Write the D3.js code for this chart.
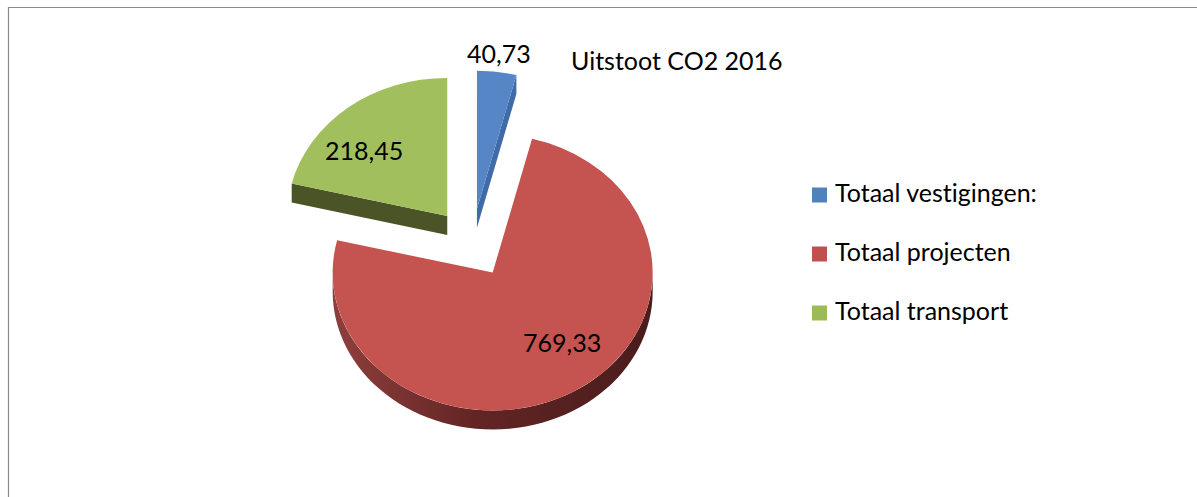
<!DOCTYPE html>
<html>
<head>
<meta charset="utf-8">
<script src="https://cdn.jsdelivr.net/npm/d3@7"></script>
<style>
html, body { margin: 0; padding: 0; background: #fff; }
svg { display: block; }
text { font-family: Lato, "Open Sans", sans-serif; fill: #000; font-variant-ligatures: none; font-feature-settings: "liga" 0, "clig" 0; }
</style>
</head>
<body>
<svg id="chart" width="1197" height="497"></svg>
<script>
// ---- data ----
const title = "Uitstoot CO2 2016";
const categories = ["Totaal vestigingen:", "Totaal projecten", "Totaal transport"];
const values = [40.73, 769.33, 218.45];
const valueLabels = ["40,73", "769,33", "218,45"];

// ---- styles ----
const topColors = ["#5686c6", "#c5534f", "#a2bf5e"];
const sideColors = ["#3f6ca8", "url(#redSide)", "#4a5427"];
const legendColors = ["#4f81bd", "#c0504d", "#9bbb59"];
const fontSize = 25;

const W = 1197, H = 497;
const svg = d3.select("#chart");

// border (chart area frame)
svg.append("line").attr("x1", 8).attr("x2", W).attr("y1", 7.5).attr("y2", 7.5)
  .attr("stroke", "#8a8a8a").attr("stroke-width", 1.2);
svg.append("line").attr("x1", 8.5).attr("x2", 8.5).attr("y1", 7).attr("y2", H)
  .attr("stroke", "#8a8a8a").attr("stroke-width", 1.2);

// 3D pie geometry
const cx = 472, cy = 243, rx = 160, ry = 138, depth = 19, explode = 40;
const k = ry / rx;

const defs = svg.append("defs");
const g1 = defs.append("linearGradient").attr("id", "redSide")
  .attr("gradientUnits", "userSpaceOnUse")
  .attr("x1", cx + 20 - rx).attr("x2", cx + 20 + rx).attr("y1", 0).attr("y2", 0);
g1.append("stop").attr("offset", 0).attr("stop-color", "#8f3f3d");
g1.append("stop").attr("offset", 0.45).attr("stop-color", "#622524");
g1.append("stop").attr("offset", 1).attr("stop-color", "#4a1c1c");

const pie = d3.pie().sort(null).value(d => d);
const arcs = pie(values);

const arcGen = d3.arc().innerRadius(0).outerRadius(rx);

function pt(ox, oy, a, r, dz) {
  return [ox + r * Math.sin(a), oy - r * k * Math.cos(a) + (dz || 0)];
}

function sidePath(ox, oy, a0, a1) {
  const s = Math.max(a0, Math.PI / 2), e = Math.min(a1, 3 * Math.PI / 2);
  if (e <= s) return null;
  const p = d3.path();
  const n = 60;
  for (let i = 0; i <= n; i++) {
    const a = s + (e - s) * i / n;
    const [x, y] = pt(ox, oy, a, rx);
    if (i === 0) p.moveTo(x, y); else p.lineTo(x, y);
  }
  for (let i = n; i >= 0; i--) {
    const a = s + (e - s) * i / n;
    const [x, y] = pt(ox, oy, a, rx, depth);
    p.lineTo(x, y);
  }
  p.closePath();
  return p.toString();
}

function cutPath(ox, oy, a) {
  const p = d3.path();
  const [x1, y1] = pt(ox, oy, a, rx);
  p.moveTo(ox, oy);
  p.lineTo(x1, y1);
  p.lineTo(x1, y1 + depth);
  p.lineTo(ox, oy + depth);
  p.closePath();
  return p.toString();
}

// draw order: back to front (transport, vestigingen, projecten)
const order = [2, 0, 1];
const pieG = svg.append("g");
order.forEach(i => {
  const d = arcs[i];
  const mid = (d.startAngle + d.endAngle) / 2;
  const ox = cx + explode * Math.sin(mid);
  const oy = cy - explode * k * Math.cos(mid);
  const g = pieG.append("g");
  const nS = d.startAngle - Math.PI / 2, nE = d.endAngle + Math.PI / 2;
  if (-Math.cos(nS) > 0.01) g.append("path").attr("d", cutPath(ox, oy, d.startAngle)).attr("fill", sideColors[i]);
  if (-Math.cos(nE) > 0.01) g.append("path").attr("d", cutPath(ox, oy, d.endAngle)).attr("fill", sideColors[i]);
  const sp = sidePath(ox, oy, d.startAngle, d.endAngle);
  if (sp) g.append("path").attr("d", sp).attr("fill", sideColors[i]);
  g.append("path")
    .attr("d", arcGen(d))
    .attr("transform", `translate(${ox},${oy}) scale(1,${k})`)
    .attr("fill", topColors[i]);
});

// value labels
arcs.forEach((d, i) => {
  const mid = (d.startAngle + d.endAngle) / 2;
  const ox = cx + explode * Math.sin(mid);
  const oy = cy - explode * k * Math.cos(mid);
  const outside = (d.endAngle - d.startAngle) < 0.5;
  const fx = outside ? 1.1 : 0.84, fy = outside ? 1.13 : 0.6;
  const x = ox + fx * rx * Math.sin(mid);
  const y = oy - fy * ry * Math.cos(mid);
  svg.append("text").attr("x", x).attr("y", y).attr("dy", "0.35em")
    .attr("text-anchor", "middle").attr("font-size", fontSize).text(valueLabels[i]);
});

// title
svg.append("text").attr("x", 571).attr("y", 70).attr("font-size", fontSize).text(title);

// legend
const legendY = d3.scalePoint().domain(categories).range([202, 320]);
const lg = svg.append("g");
categories.forEach((c, i) => {
  const by = legendY(c);
  lg.append("rect").attr("x", 812).attr("y", by - 14.5).attr("width", 15).attr("height", 15)
    .attr("fill", legendColors[i]);
  lg.append("text").attr("x", 835).attr("y", by).attr("font-size", fontSize).text(c);
});
</script>
</body>
</html>
